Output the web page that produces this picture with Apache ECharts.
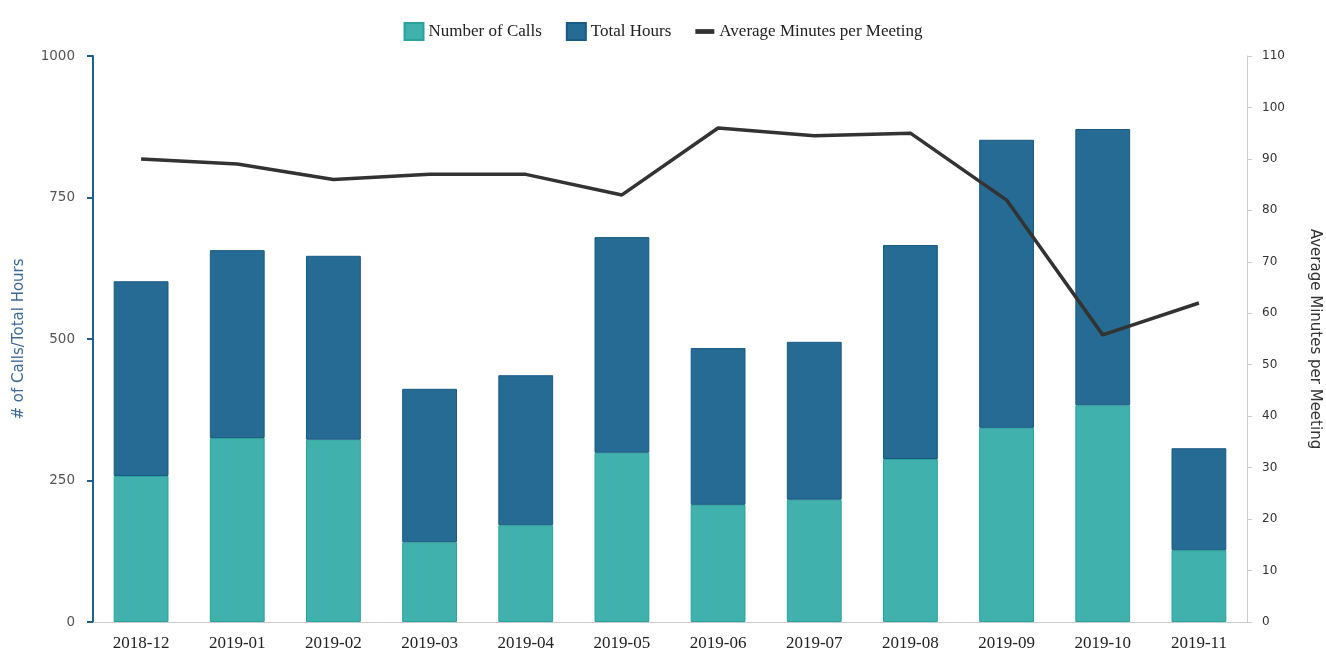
<!DOCTYPE html>
<html>
<head>
<meta charset="utf-8">
<script src="https://cdn.jsdelivr.net/npm/echarts@6/dist/echarts.min.js"></script>
<style>
  html, body { margin: 0; padding: 0; background: #fff; }
  #chart { width: 1326px; height: 654px; }
</style>
</head>
<body>
<div id="chart"></div>
<script>
const months = ['2018-12', '2019-01', '2019-02', '2019-03', '2019-04', '2019-05',
  '2019-06', '2019-07', '2019-08', '2019-09', '2019-10', '2019-11']
const numberOfCalls = [258, 325, 322, 141, 171, 299, 207, 216, 288, 343, 383, 127]
const totalHours = [344, 332, 325, 271, 265, 381, 277, 279, 378, 509, 488, 180]
const avgMinutes = [90, 89, 86, 87, 87, 83, 96, 94.5, 95, 82, 55.8, 62]

const chart = echarts.init(document.getElementById('chart'))

const serif = 'Liberation Serif'
const sans = 'DejaVu Sans'

const option = {
  animation: false,
  legend: {
    top: 17,
    left: 'center',
    itemWidth: 19,
    itemHeight: 17,
    itemGap: 24,
    textStyle: { fontFamily: serif, fontSize: 17, color: '#222' },
    data: [
      { name: 'Number of Calls', icon: 'rect' },
      { name: 'Total Hours', icon: 'rect' },
      { name: 'Average Minutes per Meeting', icon: 'path://M0,0 H20 V5 H0 Z', itemStyle: { color: '#333' } }
    ]
  },
  grid: { left: 93, right: 79, top: 56, bottom: 32, outerBoundsMode: 'none' },
  xAxis: {
    type: 'category',
    data: months,
    axisLine: { lineStyle: { color: '#ccc', width: 1 } },
    axisTick: { length: 7, lineStyle: { color: '#ccc' } },
    axisLabel: { fontFamily: serif, fontSize: 17, color: '#222', margin: 13 }
  },
  yAxis: [
    {
      type: 'value',
      min: 0,
      max: 1000,
      interval: 250,
      name: '# of Calls/Total Hours',
      nameLocation: 'middle',
      nameGap: 66,
      nameTextStyle: { fontFamily: sans, fontSize: 15, color: '#3c6a98' },
      axisLine: { show: true, lineStyle: { color: '#1f5f8b', width: 2 } },
      axisTick: { show: true, length: 6, lineStyle: { color: '#1f5f8b', width: 2 } },
      axisLabel: { fontFamily: sans, fontSize: 13.5, color: '#555', margin: 18, formatter: v => String(v) },
      splitLine: { show: false }
    },
    {
      type: 'value',
      min: 0,
      max: 110,
      interval: 10,
      position: 'right',
      name: 'Average Minutes per Meeting',
      nameLocation: 'middle',
      nameRotate: -90,
      nameGap: 60,
      nameTextStyle: { fontFamily: sans, fontSize: 15, color: '#333' },
      axisLine: { show: true, lineStyle: { color: '#ccc', width: 1 } },
      axisTick: { show: true, length: 5, lineStyle: { color: '#ccc' } },
      axisLabel: { fontFamily: sans, fontSize: 12, color: '#333', margin: 15 },
      splitLine: { show: false }
    }
  ],
  series: [
    {
      name: 'Number of Calls',
      type: 'bar',
      stack: 'total',
      barWidth: '57%',
      data: numberOfCalls,
      itemStyle: { color: '#40b1ac', borderColor: '#2aa39d', borderWidth: 1 }
    },
    {
      name: 'Total Hours',
      type: 'bar',
      stack: 'total',
      barWidth: '57%',
      data: totalHours,
      itemStyle: { color: '#256b93', borderColor: '#195a84', borderWidth: 1 }
    },
    {
      name: 'Average Minutes per Meeting',
      type: 'line',
      yAxisIndex: 1,
      data: avgMinutes,
      symbol: 'none',
      lineStyle: { color: '#333', width: 3.5 },
      itemStyle: { color: '#333' }
    }
  ]
}

chart.setOption(option)
</script>
</body>
</html>
